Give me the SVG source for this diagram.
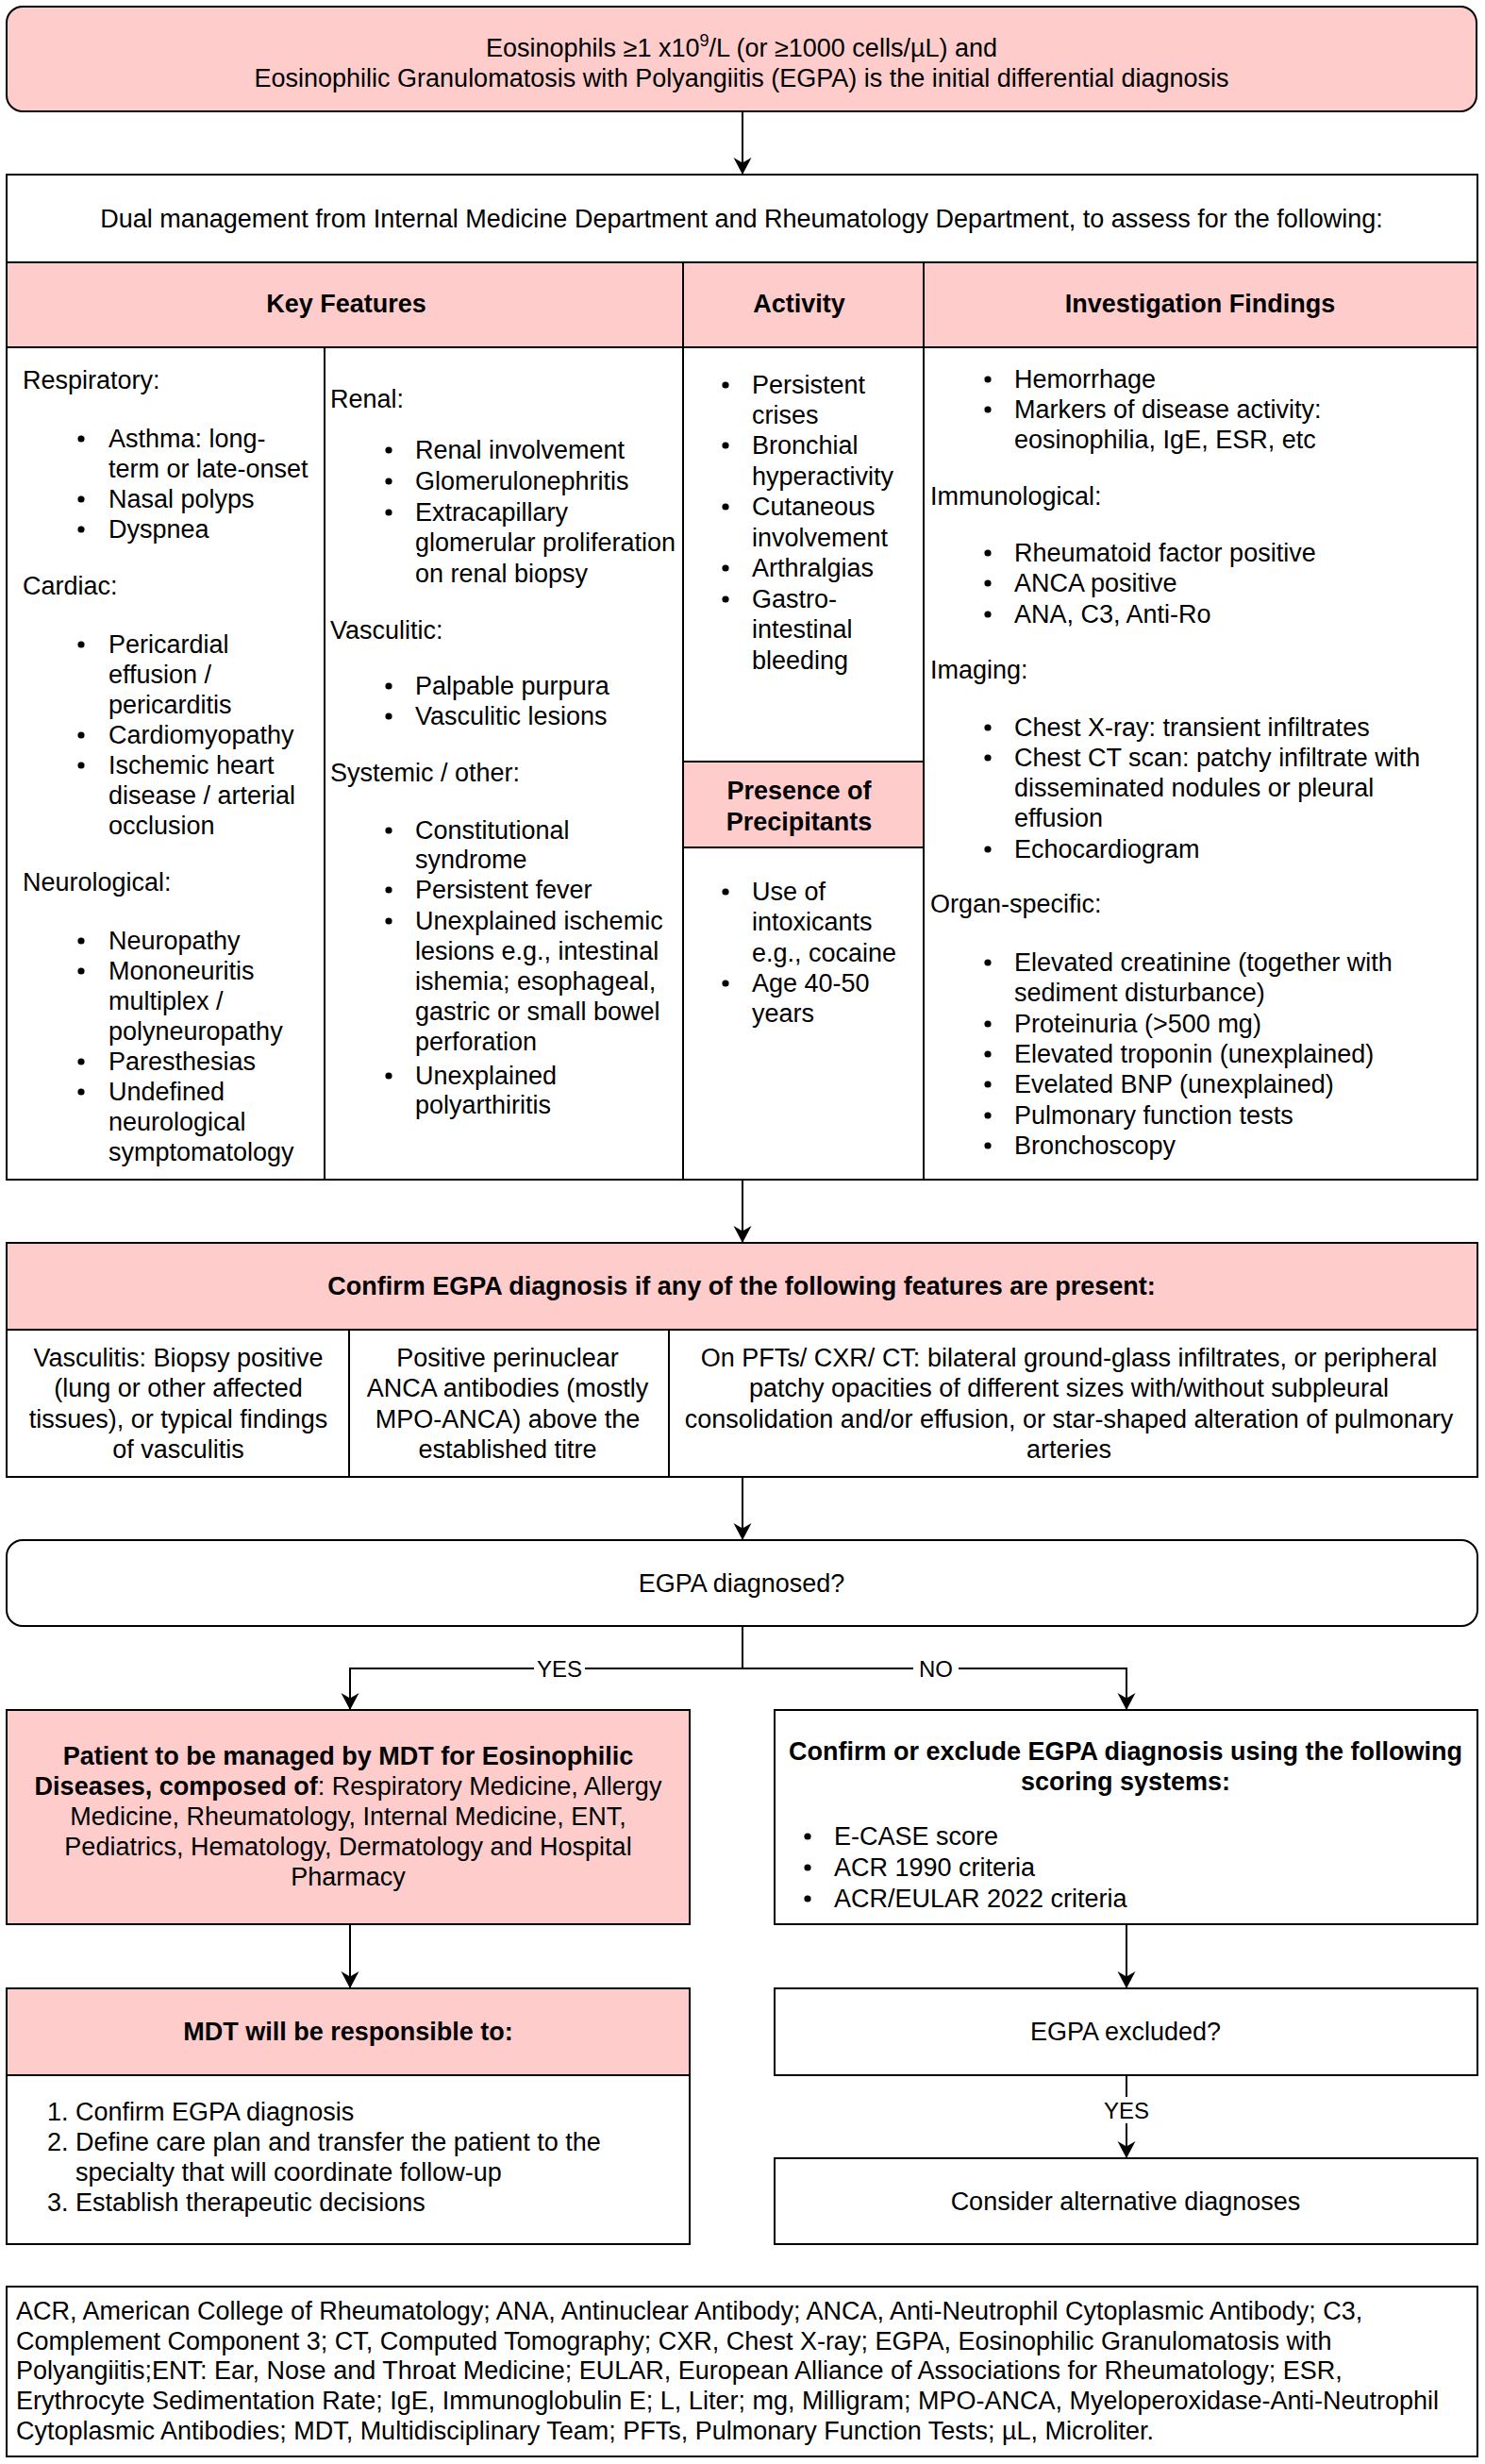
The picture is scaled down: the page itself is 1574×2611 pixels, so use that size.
<svg xmlns="http://www.w3.org/2000/svg" width="1574" height="2611" viewBox="0 0 1574 2611">
<style>
text{font-family:"Liberation Sans",Arial,Helvetica,sans-serif;font-size:27px;fill:#000}
.b{font-weight:bold}
.c{text-anchor:middle}
.lbl{font-size:24px}
.box{stroke:#000;stroke-width:2;fill:#fff}
.pink{stroke:#000;stroke-width:2;fill:#FFCCCC}
.edge{stroke:#000;stroke-width:2;fill:none}
.dot{fill:#000}
</style>
<defs>
<marker id="arr" markerUnits="userSpaceOnUse" markerWidth="20" markerHeight="20" refX="18" refY="9.5" orient="auto">
<path d="M0,0 L18,9.5 L0,19 L5.5,9.5 Z" fill="#000"/>
</marker>
</defs>
<rect width="1574" height="2611" fill="#fff"/>

<g id="connectors">
<line class="edge" x1="787" y1="118" x2="787" y2="185" marker-end="url(#arr)"/>
<line class="edge" x1="787" y1="1250" x2="787" y2="1317" marker-end="url(#arr)"/>
<line class="edge" x1="787" y1="1565" x2="787" y2="1632" marker-end="url(#arr)"/>
<polyline class="edge" points="787,1723 787,1768 371,1768 371,1812" marker-end="url(#arr)"/>
<polyline class="edge" points="787,1768 1194,1768 1194,1812" marker-end="url(#arr)"/>
<line class="edge" x1="371" y1="2039" x2="371" y2="2107" marker-end="url(#arr)"/>
<line class="edge" x1="1194" y1="2039" x2="1194" y2="2107" marker-end="url(#arr)"/>
<line class="edge" x1="1194" y1="2199" x2="1194" y2="2287" marker-end="url(#arr)"/>
<rect x="566" y="1754" width="54" height="28" fill="#fff"/>
<text class="lbl c" x="593" y="1777">YES</text>
<rect x="968" y="1754" width="48" height="28" fill="#fff"/>
<text class="lbl c" x="992" y="1777">NO</text>
<rect x="1166" y="2222" width="56" height="28" fill="#fff"/>
<text class="lbl c" x="1194" y="2245">YES</text>
</g>

<g id="start">
<rect class="pink" x="7" y="7" width="1558" height="111" rx="17" ry="17"/>
<text class="c" x="786" y="60">Eosinophils ≥1 x10<tspan font-size="18" dy="-11">9</tspan><tspan dy="11">/L (or ≥1000 cells/µL) and</tspan></text>
<text class="c" x="786" y="92">Eosinophilic Granulomatosis with Polyangiitis (EGPA) is the initial differential diagnosis</text>
</g>

<g id="dual">
<rect class="box" x="7" y="185" width="1559" height="93"/>
<text class="c" x="786" y="241">Dual management from Internal Medicine Department and Rheumatology Department, to assess for the following:</text>
</g>

<g id="hdr-key">
<rect class="pink" x="7" y="278" width="717" height="90"/>
<text class="b c" x="367" y="331">Key Features</text>
</g>
<g id="hdr-activity">
<rect class="pink" x="724" y="278" width="255" height="90"/>
<text class="b c" x="847" y="331">Activity</text>
</g>
<g id="hdr-invest">
<rect class="pink" x="979" y="278" width="587" height="90"/>
<text class="b c" x="1272" y="331">Investigation Findings</text>
</g>

<g id="key-col1">
<rect class="box" x="7" y="368" width="337" height="882"/>
<text x="24" y="412">Respiratory:</text>
<circle class="dot" cx="86" cy="465" r="3.6"/><text x="115" y="474">Asthma: long-</text>
<text x="115" y="506">term or late-onset</text>
<circle class="dot" cx="86" cy="529" r="3.6"/><text x="115" y="538">Nasal polyps</text>
<circle class="dot" cx="86" cy="561" r="3.6"/><text x="115" y="570">Dyspnea</text>
<text x="24" y="630">Cardiac:</text>
<circle class="dot" cx="86" cy="683" r="3.6"/><text x="115" y="692">Pericardial</text>
<text x="115" y="724">effusion /</text>
<text x="115" y="756">pericarditis</text>
<circle class="dot" cx="86" cy="779" r="3.6"/><text x="115" y="788">Cardiomyopathy</text>
<circle class="dot" cx="86" cy="811" r="3.6"/><text x="115" y="820">Ischemic heart</text>
<text x="115" y="852">disease / arterial</text>
<text x="115" y="884">occlusion</text>
<text x="24" y="944">Neurological:</text>
<circle class="dot" cx="86" cy="997" r="3.6"/><text x="115" y="1006">Neuropathy</text>
<circle class="dot" cx="86" cy="1029" r="3.6"/><text x="115" y="1038">Mononeuritis</text>
<text x="115" y="1070">multiplex /</text>
<text x="115" y="1102">polyneuropathy</text>
<circle class="dot" cx="86" cy="1125" r="3.6"/><text x="115" y="1134">Paresthesias</text>
<circle class="dot" cx="86" cy="1157" r="3.6"/><text x="115" y="1166">Undefined</text>
<text x="115" y="1198">neurological</text>
<text x="115" y="1230">symptomatology</text>
</g>

<g id="key-col2">
<rect class="box" x="344" y="368" width="380" height="882"/>
<text x="350" y="432">Renal:</text>
<circle class="dot" cx="412" cy="477" r="3.6"/><text x="440" y="486">Renal involvement</text>
<circle class="dot" cx="412" cy="510" r="3.6"/><text x="440" y="519">Glomerulonephritis</text>
<circle class="dot" cx="412" cy="543" r="3.6"/><text x="440" y="552">Extracapillary</text>
<text x="440" y="584">glomerular proliferation</text>
<text x="440" y="617">on renal biopsy</text>
<text x="350" y="677">Vasculitic:</text>
<circle class="dot" cx="412" cy="727" r="3.6"/><text x="440" y="736">Palpable purpura</text>
<circle class="dot" cx="412" cy="759" r="3.6"/><text x="440" y="768">Vasculitic lesions</text>
<text x="350" y="828">Systemic / other:</text>
<circle class="dot" cx="412" cy="880" r="3.6"/><text x="440" y="889">Constitutional</text>
<text x="440" y="920">syndrome</text>
<circle class="dot" cx="412" cy="943" r="3.6"/><text x="440" y="952">Persistent fever</text>
<circle class="dot" cx="412" cy="976" r="3.6"/><text x="440" y="985">Unexplained ischemic</text>
<text x="440" y="1017">lesions e.g., intestinal</text>
<text x="440" y="1049">ishemia; esophageal,</text>
<text x="440" y="1081">gastric or small bowel</text>
<text x="440" y="1113">perforation</text>
<circle class="dot" cx="412" cy="1140" r="3.6"/><text x="440" y="1149">Unexplained</text>
<text x="440" y="1180">polyarthiritis</text>
</g>

<g id="activity">
<rect class="box" x="724" y="368" width="255" height="439"/>
<circle class="dot" cx="769" cy="408" r="3.6"/><text x="797" y="417">Persistent</text>
<text x="797" y="449">crises</text>
<circle class="dot" cx="769" cy="472" r="3.6"/><text x="797" y="481">Bronchial</text>
<text x="797" y="514">hyperactivity</text>
<circle class="dot" cx="769" cy="537" r="3.6"/><text x="797" y="546">Cutaneous</text>
<text x="797" y="579">involvement</text>
<circle class="dot" cx="769" cy="602" r="3.6"/><text x="797" y="611">Arthralgias</text>
<circle class="dot" cx="769" cy="635" r="3.6"/><text x="797" y="644">Gastro-</text>
<text x="797" y="676">intestinal</text>
<text x="797" y="709">bleeding</text>
</g>

<g id="hdr-precipitants">
<rect class="pink" x="724" y="807" width="255" height="91"/>
<text class="b c" x="847" y="847">Presence of</text>
<text class="b c" x="847" y="880">Precipitants</text>
</g>

<g id="precipitants">
<rect class="box" x="724" y="898" width="255" height="352"/>
<circle class="dot" cx="769" cy="945" r="3.6"/><text x="797" y="954">Use of</text>
<text x="797" y="986">intoxicants</text>
<text x="797" y="1019">e.g., cocaine</text>
<circle class="dot" cx="769" cy="1042" r="3.6"/><text x="797" y="1051">Age 40-50</text>
<text x="797" y="1083">years</text>
</g>

<g id="investigation">
<rect class="box" x="979" y="368" width="587" height="882"/>
<circle class="dot" cx="1047" cy="402" r="3.6"/><text x="1075" y="411">Hemorrhage</text>
<circle class="dot" cx="1047" cy="434" r="3.6"/><text x="1075" y="443">Markers of disease activity:</text>
<text x="1075" y="475">eosinophilia, IgE, ESR, etc</text>
<text x="986" y="535">Immunological:</text>
<circle class="dot" cx="1047" cy="586" r="3.6"/><text x="1075" y="595">Rheumatoid factor positive</text>
<circle class="dot" cx="1047" cy="618" r="3.6"/><text x="1075" y="627">ANCA positive</text>
<circle class="dot" cx="1047" cy="651" r="3.6"/><text x="1075" y="660">ANA, C3, Anti-Ro</text>
<text x="986" y="719">Imaging:</text>
<circle class="dot" cx="1047" cy="771" r="3.6"/><text x="1075" y="780">Chest X-ray: transient infiltrates</text>
<circle class="dot" cx="1047" cy="803" r="3.6"/><text x="1075" y="812">Chest CT scan: patchy infiltrate with</text>
<text x="1075" y="844">disseminated nodules or pleural</text>
<text x="1075" y="876">effusion</text>
<circle class="dot" cx="1047" cy="900" r="3.6"/><text x="1075" y="909">Echocardiogram</text>
<text x="986" y="967">Organ-specific:</text>
<circle class="dot" cx="1047" cy="1020" r="3.6"/><text x="1075" y="1029">Elevated creatinine (together with</text>
<text x="1075" y="1061">sediment disturbance)</text>
<circle class="dot" cx="1047" cy="1085" r="3.6"/><text x="1075" y="1094">Proteinuria (&gt;500 mg)</text>
<circle class="dot" cx="1047" cy="1117" r="3.6"/><text x="1075" y="1126">Elevated troponin (unexplained)</text>
<circle class="dot" cx="1047" cy="1149" r="3.6"/><text x="1075" y="1158">Evelated BNP (unexplained)</text>
<circle class="dot" cx="1047" cy="1182" r="3.6"/><text x="1075" y="1191">Pulmonary function tests</text>
<circle class="dot" cx="1047" cy="1214" r="3.6"/><text x="1075" y="1223">Bronchoscopy</text>
</g>

<g id="confirm-hdr">
<rect class="pink" x="7" y="1317" width="1559" height="92"/>
<text class="b c" x="786" y="1372">Confirm EGPA diagnosis if any of the following features are present:</text>
</g>
<g id="confirm-vasculitis">
<rect class="box" x="7" y="1409" width="363" height="156"/>
<text class="c" x="189" y="1448">Vasculitis: Biopsy positive</text>
<text class="c" x="189" y="1480">(lung or other affected</text>
<text class="c" x="189" y="1513">tissues), or typical findings</text>
<text class="c" x="189" y="1545">of vasculitis</text>
</g>
<g id="confirm-anca">
<rect class="box" x="370" y="1409" width="339" height="156"/>
<text class="c" x="538" y="1448">Positive perinuclear</text>
<text class="c" x="538" y="1480">ANCA antibodies (mostly</text>
<text class="c" x="538" y="1513">MPO-ANCA) above the</text>
<text class="c" x="538" y="1545">established titre</text>
</g>
<g id="confirm-imaging">
<rect class="box" x="709" y="1409" width="857" height="156"/>
<text class="c" x="1133" y="1448">On PFTs/ CXR/ CT: bilateral ground-glass infiltrates, or peripheral</text>
<text class="c" x="1133" y="1480">patchy opacities of different sizes with/without subpleural</text>
<text class="c" x="1133" y="1513">consolidation and/or effusion, or star-shaped alteration of pulmonary</text>
<text class="c" x="1133" y="1545">arteries</text>
</g>

<g id="diagnosed">
<rect class="box" x="7" y="1632" width="1559" height="91" rx="17" ry="17"/>
<text class="c" x="786" y="1687">EGPA diagnosed?</text>
</g>

<g id="mdt-patient">
<rect class="pink" x="7" y="1812" width="724" height="227"/>
<text class="b c" x="369" y="1870">Patient to be managed by MDT for Eosinophilic</text>
<text class="c" x="369" y="1902"><tspan class="b">Diseases, composed of</tspan>: Respiratory Medicine, Allergy</text>
<text class="c" x="369" y="1934">Medicine, Rheumatology, Internal Medicine, ENT,</text>
<text class="c" x="369" y="1966">Pediatrics, Hematology, Dermatology and Hospital</text>
<text class="c" x="369" y="1998">Pharmacy</text>
</g>

<g id="scoring">
<rect class="box" x="821" y="1812" width="745" height="227"/>
<text class="b c" x="1193" y="1865">Confirm or exclude EGPA diagnosis using the following</text>
<text class="b c" x="1193" y="1897">scoring systems:</text>
<circle class="dot" cx="856" cy="1946" r="3.6"/><text x="884" y="1955">E-CASE score</text>
<circle class="dot" cx="856" cy="1979" r="3.6"/><text x="884" y="1988">ACR 1990 criteria</text>
<circle class="dot" cx="856" cy="2012" r="3.6"/><text x="884" y="2021">ACR/EULAR 2022 criteria</text>
</g>

<g id="mdt-hdr">
<rect class="pink" x="7" y="2107" width="724" height="92"/>
<text class="b c" x="369" y="2162">MDT will be responsible to:</text>
</g>
<g id="mdt-tasks">
<rect class="box" x="7" y="2199" width="724" height="179"/>
<text x="50" y="2247">1. Confirm EGPA diagnosis</text>
<text x="50" y="2279">2. Define care plan and transfer the patient to the</text>
<text x="80" y="2311">specialty that will coordinate follow-up</text>
<text x="50" y="2343">3. Establish therapeutic decisions</text>
</g>

<g id="excluded">
<rect class="box" x="821" y="2107" width="745" height="92"/>
<text class="c" x="1193" y="2162">EGPA excluded?</text>
</g>

<g id="alternative">
<rect class="box" x="821" y="2287" width="745" height="91"/>
<text class="c" x="1193" y="2342">Consider alternative diagnoses</text>
</g>

<g id="abbreviations">
<rect class="box" x="7" y="2423" width="1559" height="180"/>
<text x="17" y="2458">ACR, American College of Rheumatology; ANA, Antinuclear Antibody; ANCA, Anti-Neutrophil Cytoplasmic Antibody; C3,</text>
<text x="17" y="2490">Complement Component 3; CT, Computed Tomography; CXR, Chest X-ray; EGPA, Eosinophilic Granulomatosis with</text>
<text x="17" y="2521">Polyangiitis;ENT: Ear, Nose and Throat Medicine; EULAR, European Alliance of Associations for Rheumatology; ESR,</text>
<text x="17" y="2553">Erythrocyte Sedimentation Rate; IgE, Immunoglobulin E; L, Liter; mg, Milligram; MPO-ANCA, Myeloperoxidase-Anti-Neutrophil</text>
<text x="17" y="2585">Cytoplasmic Antibodies; MDT, Multidisciplinary Team; PFTs, Pulmonary Function Tests; µL, Microliter.</text>
</g>
</svg>
